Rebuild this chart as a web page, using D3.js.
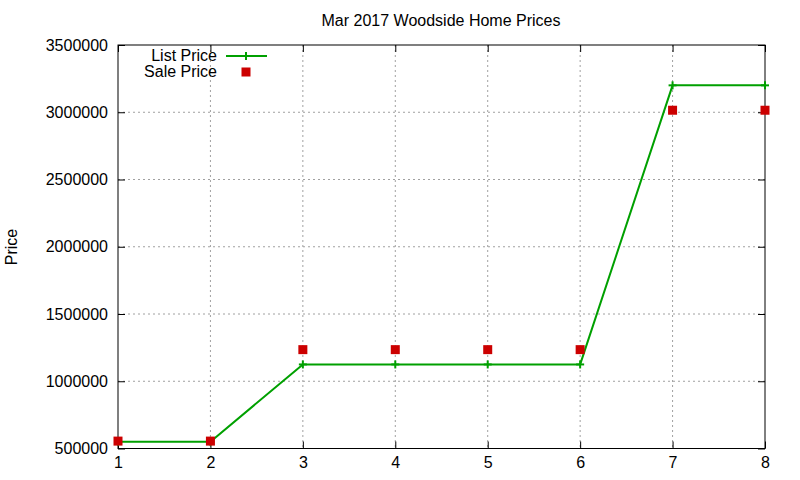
<!DOCTYPE html>
<html><head><meta charset="utf-8">
<script src="https://cdn.jsdelivr.net/npm/d3@7"></script>
<style>body{margin:0;background:#fff}svg{display:block}text{font-family:"Liberation Sans",Arial,sans-serif}</style>
</head><body><svg id="c" width="800" height="480"></svg>
<script>
const xs = [1,2,3,4,5,6,7,8];
const listPrice = [550000,550000,1125000,1125000,1125000,1125000,3200000,3200000];
const salePrice = [555000,555000,1235000,1235000,1235000,1235000,3015000,3015000];
const yTicks = [500000,1000000,1500000,2000000,2500000,3000000,3500000];
const xTicks = [1,2,3,4,5,6,7,8];
const title = "Mar 2017 Woodside Home Prices";

const svg = d3.select("#c");
const L=118,R=765,T=45,B=448.5;
const x = d3.scaleLinear().domain([1,8]).range([L,R]);
const y = d3.scaleLinear().domain([500000,3500000]).range([B,T]);
const green="#00a000", red="#cc0000";

// grid
const g = svg.append("g");
g.selectAll(".gx").data(xTicks.slice(1,-1)).join("line")
  .attr("x1",d=>x(d)).attr("x2",d=>x(d)).attr("y1",T).attr("y2",B)
  .attr("stroke","#a0a0a0").attr("stroke-dasharray","2,3").attr("stroke-width",1);
g.selectAll(".gy").data(yTicks.slice(1,-1)).join("line")
  .attr("y1",d=>y(d)).attr("y2",d=>y(d)).attr("x1",L).attr("x2",R)
  .attr("stroke","#a0a0a0").attr("stroke-dasharray","2,3").attr("stroke-width",1);

// axes with ticks
const ax = (gen, tx)=>{ const a=svg.append("g").attr("transform",tx).call(gen);
  a.select(".domain").remove(); a.selectAll("line").attr("stroke","#000");
  a.selectAll("text").attr("font-size",16).attr("fill","#000"); return a; };
ax(d3.axisLeft(y).tickValues(yTicks).tickFormat(d3.format("d")).tickSizeInner(-7).tickPadding(10),`translate(${L},0)`);
ax(d3.axisBottom(x).tickValues(xTicks).tickFormat(d3.format("d")).tickSizeInner(-7).tickPadding(6),`translate(0,${B})`)
  .selectAll("text").attr("dy","0.85em");
ax(d3.axisRight(y).tickValues(yTicks).tickFormat("").tickSizeInner(-7),`translate(${R},0)`);
ax(d3.axisTop(x).tickValues(xTicks).tickFormat("").tickSizeInner(-7),`translate(0,${T})`);

// border
svg.append("rect").attr("x",L).attr("y",T).attr("width",R-L).attr("height",B-T)
  .attr("fill","none").attr("stroke","#000").attr("stroke-width",1);

// list price line
const line = d3.line().x((d,i)=>x(xs[i])).y(d=>y(d));
svg.append("path").datum(listPrice).attr("d",line).attr("fill","none")
  .attr("stroke",green).attr("stroke-width",2);
svg.selectAll(".lp").data(listPrice).join("g")
  .attr("transform",(d,i)=>`translate(${x(xs[i])},${y(d)})`)
  .each(function(){ const s=d3.select(this);
    s.append("line").attr("x1",-4).attr("x2",4).attr("stroke",green).attr("stroke-width",2);
    s.append("line").attr("y1",-4).attr("y2",4).attr("stroke",green).attr("stroke-width",2);});

// sale price squares
svg.selectAll(".sp").data(salePrice).join("rect")
  .attr("x",(d,i)=>x(xs[i])-4.5).attr("y",d=>y(d)-4.5).attr("width",9).attr("height",9).attr("fill",red);

// title and y label
svg.append("text").attr("x",441).attr("y",26).attr("text-anchor","middle").attr("font-size",16).text(title);
svg.append("text").attr("transform","translate(17,247) rotate(-90)").attr("text-anchor","middle").attr("font-size",16).text("Price");

// legend
svg.append("text").attr("x",217).attr("y",61).attr("text-anchor","end").attr("font-size",16).text("List Price");
svg.append("line").attr("x1",226).attr("x2",267).attr("y1",56).attr("y2",56).attr("stroke",green).attr("stroke-width",2);
svg.append("line").attr("x1",246).attr("x2",246).attr("y1",52).attr("y2",60).attr("stroke",green).attr("stroke-width",2);
svg.append("text").attr("x",217).attr("y",77).attr("text-anchor","end").attr("font-size",16).text("Sale Price");
svg.append("rect").attr("x",241.5).attr("y",67.5).attr("width",9).attr("height",9).attr("fill",red);
</script></body></html>
